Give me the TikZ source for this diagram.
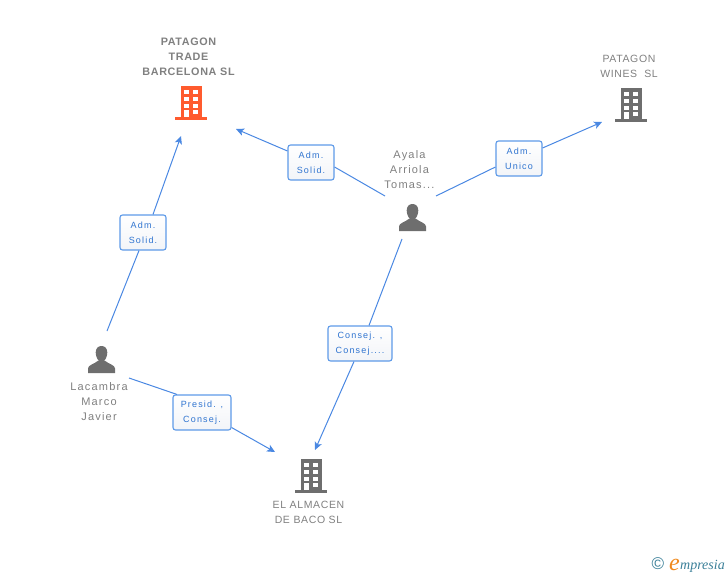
\documentclass[tikz,border=0pt]{standalone}
\usepackage{fontspec}
\setmainfont{Liberation Sans}
\newfontfamily\lblfont[LetterSpace=13]{Liberation Sans}
\newfontfamily\namefont[LetterSpace=11]{Liberation Sans}
\newfontfamily\capsfont[LetterSpace=6]{Liberation Sans}
\newfontfamily\boldnamefont[LetterSpace=6]{Liberation Sans Bold}
\newfontfamily\logofont{Liberation Serif Italic}
\usetikzlibrary{arrows.meta}
\definecolor{linkblue}{HTML}{4A88E2}
\definecolor{boxblue}{HTML}{5E9AE8}
\definecolor{boxfade}{HTML}{F2F4F8}
\definecolor{textblue}{HTML}{2F74D0}
\definecolor{greytext}{HTML}{808080}
\definecolor{icongrey}{HTML}{6E6E6E}
\definecolor{iconred}{HTML}{FF5B2E}
\definecolor{logoteal}{HTML}{3A7F98}
\definecolor{logoorange}{HTML}{F08A1E}
\tikzset{
  x=1pt,y=-1pt,
  link/.style={draw=linkblue,line width=1pt},
  arrowlink/.style={link,-{Stealth[length=8pt,width=7.5pt,inset=2pt]}},
  rolebox/.style={draw=boxblue,line width=1.1pt,rounded corners=2.5pt,top color=white,bottom color=boxfade,
    minimum height=35pt,inner sep=0pt,align=center,text=textblue,font=\lblfont\fontsize{9}{15}\selectfont},
  entity/.style={text=greytext,align=center,inner sep=0pt,font=\namefont\fontsize{11}{15}\selectfont},
  entitycaps/.style={text=greytext,align=center,inner sep=0pt,font=\capsfont\fontsize{10.5}{15}\selectfont},
  entitybold/.style={text=greytext,align=center,inner sep=0pt,font=\boldnamefont\fontsize{10.8}{15}\selectfont},
  building/.pic={
    \fill[pic actions] (-10.5,-34) rectangle (10.5,-3);
    \fill[pic actions] (-16,-3) rectangle (16,0);
    \foreach \r in {-30,-23,-16}{
      \fill[white] (-7,\r) rectangle (-2,\r+4);
      \fill[white] (2,\r) rectangle (7,\r+4);
    }
    \fill[white] (-7,-10) rectangle (-2,-3);
    \fill[white] (2,-10) rectangle (7,-6);
  },
  person/.pic={
    \fill[pic actions] (-5.8,-7) .. controls (-5.8,-11) and (-3.5,-13.5) .. (0,-13.5)
      .. controls (3.5,-13.5) and (5.8,-11) .. (5.8,-7)
      .. controls (5.8,-3) and (3.5,2.5) .. (0,2.5)
      .. controls (-3.5,2.5) and (-5.8,-3) .. (-5.8,-7) -- cycle;
    \fill[pic actions] (-13.5,13.5) -- (-13.5,9) .. controls (-13.5,5.5) and (-8,5) .. (-3,1)
      -- (3,1) .. controls (8,5) and (13.5,5.5) .. (13.5,9) -- (13.5,13.5) -- cycle;
  },
}
\begin{document}
\begin{tikzpicture}
\useasboundingbox (0,0) rectangle (728,575);
% free ends of the connectors
\coordinate (tradeEnd) at (236,129);
\coordinate (tradeEndB) at (181,136);
\coordinate (winesEnd) at (602,122);
\coordinate (almacenEndA) at (275,452);
\coordinate (almacenEndB) at (315,450);
\coordinate (ayalaW) at (385,196);
\coordinate (ayalaE) at (436,196);
\coordinate (ayalaS) at (402,239);
\coordinate (lacambraN) at (107,331);
\coordinate (lacambraE) at (129,378);
% boxes
\node[rolebox,minimum width=46pt] (b1) at (311,162.5) {Adm.\\Solid.};
\node[rolebox,minimum width=46pt] (b2) at (143,232.5) {Adm.\\Solid.};
\node[rolebox,minimum width=46pt] (b3) at (519,158.5) {Adm.\\Unico};
\node[rolebox,minimum width=64pt] (b4) at (360,343.5) {Consej. ,\\Consej....};
\node[rolebox,minimum width=58pt] (b5) at (202,412.5) {Presid. ,\\Consej.};
% connectors, leaving the rim of each box
\draw[link] (ayalaW) -- ([yshift=-4.5pt]b1.east);
\draw[arrowlink] ([yshift=11.5pt]b1.west) -- (tradeEnd);
\draw[link] (lacambraN) -- ([xshift=-4pt]b2.south);
\draw[arrowlink] ([xshift=10pt]b2.north) -- (tradeEndB);
\draw[link] (ayalaE) -- ([yshift=-8.5pt]b3.west);
\draw[arrowlink] ([yshift=10.5pt]b3.east) -- (winesEnd);
\draw[link] (ayalaS) -- ([xshift=9pt]b4.north);
\draw[arrowlink] ([xshift=-6pt]b4.south) -- (almacenEndB);
\draw[link] (lacambraE) -- ([xshift=-25pt]b5.north);
\draw[arrowlink] ([yshift=-15pt]b5.east) -- (almacenEndA);
% icons
\pic[fill=iconred] at (191,120) {building};
\pic[fill=icongrey] at (631,122) {building};
\pic[fill=icongrey] at (311,493) {building};
\pic[fill=icongrey] at (412.5,217.5) {person};
\pic[fill=icongrey] at (101.5,359.5) {person};
% labels
\node[entitybold] (trade) at (188.5,57) {PATAGON\\TRADE\\BARCELONA SL};
\node[entitycaps] (wines) at (629,66.5) {PATAGON\\WINES\ \ SL};
\node[entity] (ayala) at (409.5,170) {Ayala\\Arriola\\Tomas...};
\node[entity] (lacambra) at (99,402) {Lacambra\\Marco\\Javier};
\node[entitycaps] (almacen) at (308.5,512.5) {EL ALMACEN\\DE BACO SL};
% logo
\node[inner sep=0pt,text=logoteal,font=\fontsize{17}{17}\selectfont] (copyr) at (658,564) {©};
\node[anchor=base west,inner sep=0pt,text=logoorange,font=\logofont\fontsize{24}{24}\selectfont] (logoe) at (669,570) {e};
\node[anchor=base west,inner sep=0pt,text=logoteal,font=\logofont\fontsize{14}{14}\selectfont] (logot) at (680,569) {mpresia};
\end{tikzpicture}
\end{document}
